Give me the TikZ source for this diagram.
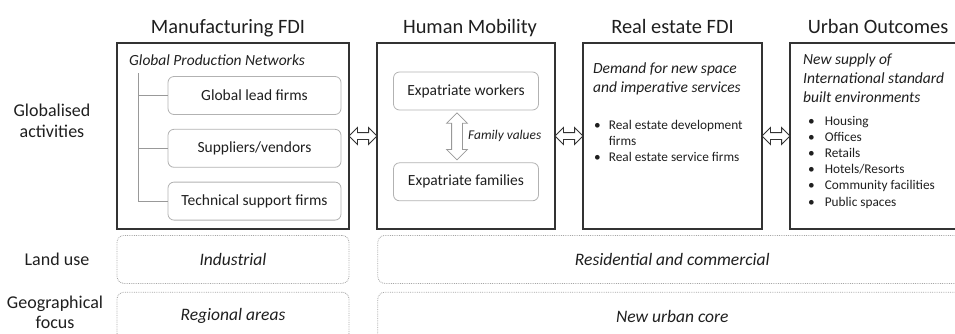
\documentclass[tikz,border=0pt]{standalone}
\usepackage{fontspec}
\setmainfont{Carlito}
\usetikzlibrary{positioning,shapes.arrows}

\begin{document}
\begin{tikzpicture}[x=1pt,y=1pt,
    every node/.style={text=black!88},
    mainbox/.style={draw=black!80,line width=1.3pt,minimum height=186pt,inner sep=0pt,outer sep=0pt},
    title/.style={font=\fontsize{20.4}{24}\selectfont,anchor=base},
    rowlabel/.style={font=\fontsize{18}{21}\selectfont,align=center},
    subbox/.style={draw=black!30,line width=0.8pt,rounded corners=6pt,minimum height=38pt,
                   font=\fontsize{15.5}{19}\selectfont},
    rowbox/.style={draw=black!35,densely dotted,line width=0.8pt,rounded corners=7pt,
                   minimum height=48pt,font=\fontsize{17.5}{21}\selectfont\itshape},
    textblock/.style={font=\fontsize{15.5}{19}\selectfont\itshape,anchor=base west,inner sep=0pt},
    bullets/.style={font=\fontsize{13.3}{16.2}\selectfont,anchor=base west,inner sep=0pt},
    linkarrow/.style={double arrow,draw=black!80,fill=white,line width=0.9pt,inner sep=3pt,
                      double arrow head extend=5pt,minimum height=28pt},
    famarrow/.style={double arrow,draw=black!40,fill=white,line width=0.8pt,inner sep=5pt,
                     double arrow head extend=5pt,minimum height=47pt,rotate=90},
    tree/.style={draw=black!40,line width=0.8pt}]

  \useasboundingbox (0,0) rectangle (955,-333);
  \clip (0,0) rectangle (955,-333);

  % columns
  \node[mainbox,minimum width=232pt]                   (mfg) at (233,-136) {};
  \node[mainbox,minimum width=178pt,right=28pt of mfg] (mob) {};
  \node[mainbox,minimum width=179pt,right=28pt of mob] (res) {};
  \node[mainbox,minimum width=176pt,right=28pt of res] (urb) {};

  \node[title] (mfgT) at ([xshift=-5pt,yshift=10pt]mfg.north) {Manufacturing FDI};
  \node[title] (mobT) at ([xshift=4pt,yshift=10pt]mob.north)  {Human Mobility};
  \node[title] (resT) at ([yshift=10pt]res.north)             {Real estate FDI};
  \node[title] (urbT) at ([yshift=10pt]urb.north)             {Urban Outcomes};

  \node[linkarrow] (l12) at ([xshift=14pt]mfg.east) {};
  \node[linkarrow] (l23) at ([xshift=14pt]mob.east) {};
  \node[linkarrow] (l34) at ([xshift=14pt]res.east) {};

  % global production networks
  \node[textblock] (gpn) at ([xshift=12pt,yshift=-22pt]mfg.north west) {Global Production Networks};
  \node[subbox,minimum width=173pt]                   (lead) at (254.5,-95.5) {Global lead firms};
  \node[subbox,minimum width=173pt,below=14pt of lead] (supp) {Suppliers/vendors};
  \node[subbox,minimum width=173pt,below=14pt of supp] (tech) {Technical support firms};
  \coordinate (trunk) at (138,-73);
  \draw[tree] (trunk) |- (tech.west);
  \draw[tree] (trunk |- lead.west) -- (lead.west);
  \draw[tree] (trunk |- supp.west) -- (supp.west);

  % expatriates
  \node[subbox,minimum width=145pt] (work) at ([yshift=-48pt]mob.north) {Expatriate workers};
  \node[subbox,minimum width=145pt,below=52pt of work] (fam) {Expatriate families};
  \node[famarrow] (famA) at ([xshift=-9pt,yshift=-26pt]work.south) {};
  \node[font=\fontsize{13.4}{16}\selectfont\itshape,anchor=west,inner sep=0pt] (famL)
       at ([xshift=11pt]famA.center) {Family values};

  % real estate
  \node[textblock] (demand) at ([xshift=10pt,yshift=-30pt]res.north west)
       {\begin{tabular}[t]{@{}l@{}}Demand for new space\\and imperative services\end{tabular}};
  \node[bullets] (resL) at ([xshift=11pt,yshift=-86pt]res.north west)
       {\begin{tabular}[t]{@{}l@{\hspace{8pt}}l@{}}•&Real estate development\\&firms\\
        •&Real estate service firms\end{tabular}};

  % urban outcomes
  \node[textblock] (supply) at ([xshift=13pt,yshift=-21pt]urb.north west)
       {\begin{tabular}[t]{@{}l@{}}New supply of\\International standard\\built environments\end{tabular}};
  \node[bullets] (urbL) at ([xshift=18pt,yshift=-82pt]urb.north west)
       {\begin{tabular}[t]{@{}l@{\hspace{10pt}}l@{}}•&Housing\\•&Offices\\•&Retails\\•&Hotels/Resorts\\
        •&Community facilities\\•&Public spaces\end{tabular}};

  % rows
  \node[rowlabel] (globL) at (52,-121)   {Globalised\\activities};
  \node[rowlabel] (landL) at (57,-259)   {Land use};
  \node[rowlabel,font=\fontsize{18}{20}\selectfont] (geoL) at (55,-312.5) {Geographical\\focus};

  \node[rowbox,minimum width=232pt,below=6pt of mfg]     (indus)  {Industrial};
  \node[rowbox,minimum width=232pt,below=8pt of indus]   (region) {Regional areas};
  \node[rowbox,minimum width=589pt,right=28pt of indus]  (resid)  {Residential and commercial};
  \node[rowbox,minimum width=589pt,right=28pt of region] (core)   {New urban core};

\end{tikzpicture}
\end{document}
